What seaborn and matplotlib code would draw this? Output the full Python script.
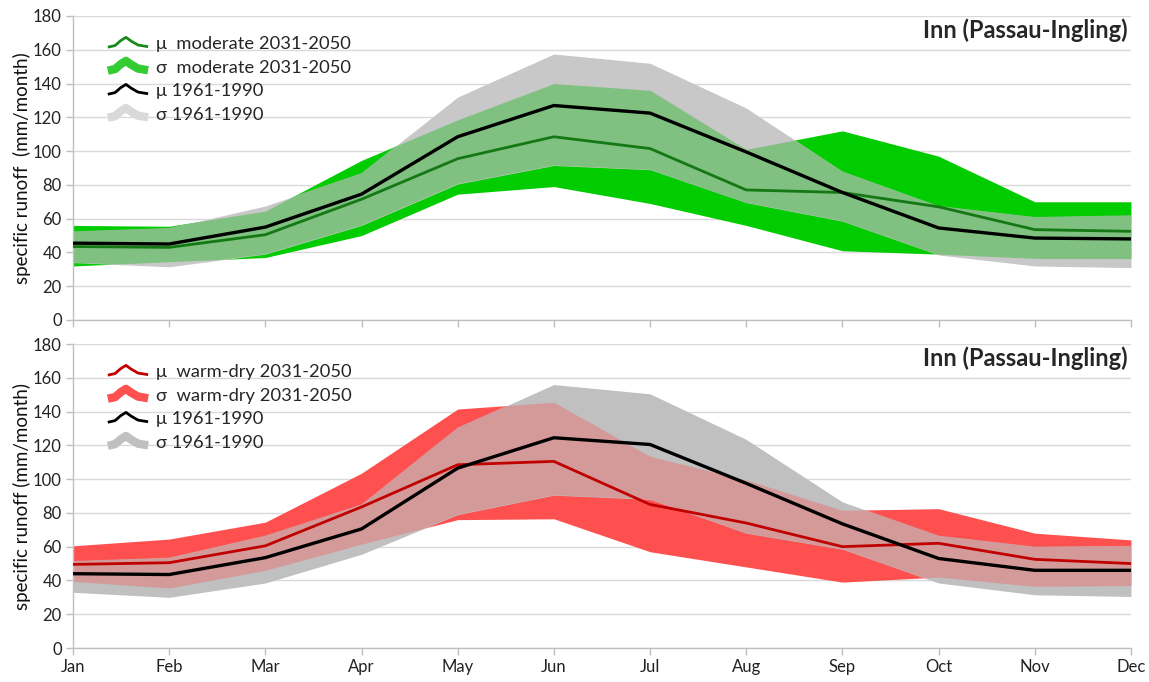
import numpy as np
import pandas as pd
import matplotlib
matplotlib.use("Agg")
import matplotlib.pyplot as plt
import seaborn as sns
from matplotlib.lines import Line2D
from matplotlib.legend_handler import HandlerBase

# ---------------- data ----------------
months = ["Jan", "Feb", "Mar", "Apr", "May", "Jun",
          "Jul", "Aug", "Sep", "Oct", "Nov", "Dec"]

# top panel: moderate 2031-2050 vs 1961-1990
mod_mu = [43.5, 43, 50.5, 71.5, 95.5, 108.5, 101.5, 77, 75.5, 67, 53.5, 52.5]
mod_hi = [56, 55.5, 64.5, 94.5, 118.5, 140, 136, 101, 112, 97, 70, 70]
mod_lo = [32, 34.5, 37, 50, 74.5, 79, 69, 56, 41, 39, 36.5, 36.5]
ref1_mu = [45.5, 45, 55, 74.5, 108.5, 127, 122.5, 99.5, 75.5, 54.5, 48.5, 48]
ref1_hi = [52.5, 54.5, 67.5, 87, 132, 157.5, 152, 125.5, 88, 67.5, 61, 62]
ref1_lo = [34, 31.5, 39, 56, 80.5, 91.5, 89, 69.5, 58.5, 38.5, 32, 31]

# bottom panel: warm-dry 2031-2050 vs 1961-1990
wd_mu = [49.5, 50.5, 60.5, 83.5, 108.5, 110.5, 85, 74, 60, 62, 52.5, 50]
wd_hi = [60.5, 64.5, 74.5, 103.5, 141.5, 145.5, 113.5, 99.5, 81.5, 82.5, 68, 64]
wd_lo = [39.5, 35.5, 46, 61.5, 76, 76.5, 57, 48, 39, 42, 36.5, 37]
ref2_mu = [44, 43.5, 53.5, 70.5, 106.5, 124.5, 120.5, 97.5, 73.5, 53, 46, 46]
ref2_hi = [51.5, 53.5, 66.5, 85, 130.5, 156, 150.5, 123.5, 86.5, 66.5, 60, 60.5]
ref2_lo = [33, 30, 38.5, 55.5, 79, 90.5, 88, 68, 58.5, 38.5, 31.5, 30.5]

title = "Inn (Passau-Ingling)"
yticks = [0, 20, 40, 60, 80, 100, 120, 140, 160, 180]

# ---------------- style ----------------
sns.set_theme(style="white")
plt.rcParams["font.family"] = ["Lato", "DejaVu Sans"]

FAM = ["Lato", "DejaVu Sans"]


class HumpHandler(HandlerBase):
    """Small hump-shaped legend icon."""
    def __init__(self, color, lw):
        super().__init__()
        self.color = color
        self.lw = lw

    def create_artists(self, legend, orig_handle, xdescent, ydescent,
                       width, height, fontsize, trans):
        fx = np.array([0.0, 0.18, 0.32, 0.45, 0.58, 0.75, 1.0])
        fy = np.array([0.25, 0.35, 0.65, 0.85, 0.62, 0.38, 0.28])
        xs = -xdescent + fx * width
        ys = -ydescent + fy * height
        ln = Line2D(xs, ys, color=self.color, lw=self.lw,
                    solid_capstyle="butt", solid_joinstyle="round",
                    transform=trans)
        return [ln]


def panel(ax, fut_mu, fut_hi, fut_lo, ref_mu, ref_hi, ref_lo,
          band_col, ovl_col, gray_col, mu_col, fut_label,
          leg_mu_col, leg_sig_col, leg_gray_col, ylabel):
    x = np.arange(len(months))
    ax.set_axisbelow(True)
    ax.fill_between(x, fut_lo, fut_hi, color=band_col, lw=0, zorder=1)
    ref_band = ax.fill_between(x, ref_lo, ref_hi, color=gray_col, lw=0, zorder=1.1)
    ovl = ax.fill_between(x, fut_lo, fut_hi, color=ovl_col, lw=0, zorder=1.2)
    ovl.set_clip_path(ref_band.get_paths()[0], ax.transData)

    df = pd.DataFrame({"m": x, "fut": fut_mu, "ref": ref_mu})
    sns.lineplot(data=df, x="m", y="fut", ax=ax, color=mu_col, lw=2, zorder=3)
    sns.lineplot(data=df, x="m", y="ref", ax=ax, color="black", lw=2.4, zorder=3.1)

    ax.set_xlim(0, 11)
    ax.set_ylim(0, 180)
    ax.set_yticks(yticks)
    ax.set_xticks(x)
    ax.grid(axis="y", color="#d9d9d9", lw=1)
    ax.grid(axis="x", visible=False)
    for s in ["top", "right"]:
        ax.spines[s].set_visible(False)
    for s in ["left", "bottom"]:
        ax.spines[s].set_color("#bfbfbf")
        ax.spines[s].set_linewidth(1)
    ax.tick_params(axis="both", which="both", direction="out", length=5,
                   color="#bfbfbf", width=1, labelsize=12, labelcolor="#222222",
                   left=True, bottom=True, pad=3)
    ax.set_xlabel("")
    ax.set_ylabel(ylabel, fontsize=13.5, color="#111111", family=FAM)
    ax.yaxis.set_label_coords(-0.0395, 0.5)
    for lab in ax.get_yticklabels():
        lab.set_family(FAM)

    ax.text(0.997, 0.953, title, transform=ax.transAxes, ha="right",
            va="center", fontsize=17, fontweight="bold", family=FAM)

    h = [Line2D([], []), Line2D([], []), Line2D([], []), Line2D([], [])]
    labels = ["\u03bc  " + fut_label, "\u03c3  " + fut_label,
              "\u03bc 1961-1990", "\u03c3 1961-1990"]
    hmap = {h[0]: HumpHandler(leg_mu_col, 2),
            h[1]: HumpHandler(leg_sig_col, 6),
            h[2]: HumpHandler("black", 2),
            h[3]: HumpHandler(leg_gray_col, 6)}
    ax.legend(h, labels, handler_map=hmap, loc="upper left",
              bbox_to_anchor=(0.026, 0.962), frameon=False,
              handlelength=2.2, handleheight=1.0, handletextpad=0.45,
              labelspacing=0.33, borderaxespad=0,
              prop={"family": FAM, "size": 13.2})
    return ax


fig = plt.figure(figsize=(11.49, 6.82), dpi=100)
ax1 = fig.add_axes([0.0635, 0.5308, 0.9208, 0.44575])
ax2 = fig.add_axes([0.0635, 0.04985, 0.9208, 0.44575])

panel(ax1, mod_mu, mod_hi, mod_lo, ref1_mu, ref1_hi, ref1_lo,
      band_col="#00cc00", ovl_col="#80c080", gray_col="#c8c8c8",
      mu_col="#147814", fut_label="moderate 2031-2050",
      leg_mu_col="#1a8a1a", leg_sig_col="#33cc33", leg_gray_col="#d9d9d9",
      ylabel="specific runoff  (mm/month)")
ax1.set_xticklabels([])

panel(ax2, wd_mu, wd_hi, wd_lo, ref2_mu, ref2_hi, ref2_lo,
      band_col="#ff5050", ovl_col="#d49a9a", gray_col="#c0c0c0",
      mu_col="#c00000", fut_label="warm-dry 2031-2050",
      leg_mu_col="#c00000", leg_sig_col="#ff5050", leg_gray_col="#c0c0c0",
      ylabel="specific runoff (mm/month)")
ax2.set_xticklabels(months, family=FAM)

fig.savefig("out.png", dpi=100)
